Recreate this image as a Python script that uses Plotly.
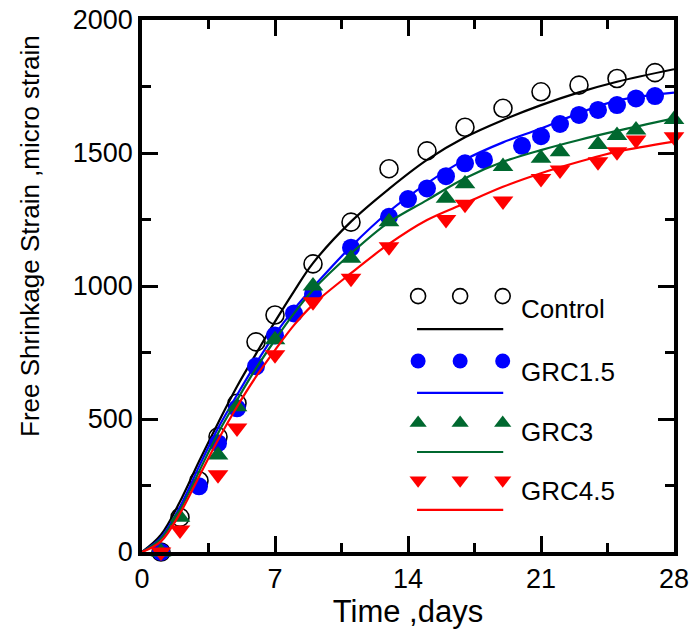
import plotly.graph_objects as go

# ---- measured data ----
control_x = [1, 2, 3, 4, 5, 6, 7, 9, 11, 13, 15, 17, 19, 21, 23, 25, 27]
control_y = [0, 130, 268, 433, 559, 790, 891, 1083, 1240, 1441, 1508, 1597, 1668, 1730, 1755, 1780, 1802]

grc15_x = [1, 3, 4, 5, 6, 7, 8, 9, 11, 13, 14, 15, 16, 17, 18, 20, 21, 22, 23, 24, 25, 26, 27]
grc15_y = [0, 247, 409, 540, 698, 814, 897, 970, 1144, 1260, 1327, 1367, 1413, 1461, 1474, 1527, 1563, 1609, 1643, 1662, 1680, 1705, 1714]

grc3_x = [1, 2, 4, 5, 7, 9, 11, 13, 16, 17, 19, 21, 22, 24, 25, 26, 28]
grc3_y = [0, 131, 365, 546, 798, 1000, 1104, 1242, 1330, 1384, 1449, 1480, 1505, 1532, 1566, 1586, 1626]

grc45_x = [1, 2, 4, 5, 7, 9, 11, 13, 16, 17, 19, 21, 22, 24, 25, 26, 28]
grc45_y = [0, 83, 290, 466, 742, 941, 1029, 1148, 1250, 1307, 1320, 1404, 1436, 1467, 1505, 1549, 1561]

# fitted curves
curve_x = [0, 1, 2, 3, 4, 5, 6, 7, 8, 9, 11, 13, 15, 17, 19, 21, 23, 25, 28]
control_fit = [0, 65, 190, 340, 484, 622, 745, 866, 980, 1086, 1242, 1365, 1474, 1559, 1624, 1680, 1728, 1768, 1815]
grc15_fit = [0, 55, 170, 321, 465, 590, 709, 818, 912, 995, 1148, 1280, 1386, 1475, 1540, 1592, 1650, 1697, 1727]
grc3_fit = [0, 50, 158, 302, 446, 571, 690, 797, 897, 985, 1122, 1240, 1323, 1405, 1467, 1511, 1549, 1583, 1630]
grc45_fit = [0, 40, 145, 283, 421, 546, 659, 759, 853, 930, 1048, 1158, 1248, 1311, 1373, 1424, 1467, 1505, 1543]

names = ["Control", "GRC1.5", "GRC3", "GRC4.5"]
x_ticks = [0, 7, 14, 21, 28]
y_ticks = [0, 500, 1000, 1500, 2000]
x_title = "Time ,days"
y_title = "Free Shrinkage Strain ,micro strain"

FONT = "Liberation Sans, Arial, sans-serif"
GREEN = "#00682F"
series = [
    (control_x, control_y, control_fit, "black",
     dict(symbol="circle-open", size=18, color="black", line=dict(width=1.6, color="black"))),
    (grc15_x, grc15_y, grc15_fit, "#0000FF",
     dict(symbol="circle", size=18, color="#0000FF")),
    (grc3_x, grc3_y, grc3_fit, GREEN,
     dict(symbol="triangle-up", size=18, color=GREEN)),
    (grc45_x, grc45_y, grc45_fit, "#FF0000",
     dict(symbol="triangle-down", size=18, color="#FF0000")),
]

fig = go.Figure()
for (sx, sy, fit, col, mk), nm in zip(series, names):
    fig.add_trace(go.Scatter(x=sx, y=sy, mode="markers", marker=mk, name=nm,
                             cliponaxis=False, showlegend=False))
    fig.add_trace(go.Scatter(x=curve_x, y=fit, mode="lines", name=nm + " fit",
                             line=dict(color=col, width=2.2, shape="spline", smoothing=1.0),
                             cliponaxis=False, showlegend=False))

# ---- custom legend (layout positions in plot-area fractions) ----
leg_marker_x = [0.519, 0.598, 0.678]
leg_line_x = [0.517, 0.679]
leg_text_x = 0.708
leg_rows = [  # marker row y, line row y, text y
    (0.481, 0.419, 0.457),
    (0.359, 0.299, 0.338),
    (0.2425, 0.188, 0.2256),
    (0.135, 0.079, 0.1147),
]
for (sx, sy, fit, col, mk), nm, (my, ly, ty) in zip(series, names, leg_rows):
    lm = dict(mk)
    lm["size"] = 15
    fig.add_trace(go.Scatter(x=leg_marker_x, y=[my] * 3, mode="markers", marker=lm,
                             xaxis="x2", yaxis="y2", showlegend=False, hoverinfo="skip"))
    fig.add_trace(go.Scatter(x=leg_line_x, y=[ly] * 2, mode="lines",
                             line=dict(color=col, width=2.2),
                             xaxis="x2", yaxis="y2", showlegend=False, hoverinfo="skip"))
    fig.add_annotation(x=leg_text_x, y=ty, xref="x2", yref="y2", text=nm, showarrow=False,
                       xanchor="left", yanchor="middle",
                       font=dict(family=FONT, size=26, color="black"))

# y-axis title (placed slightly above centre, as in the original)
fig.add_annotation(x=-0.2105, y=0.594, xref="paper", yref="paper", text=y_title,
                   textangle=-90, showarrow=False, xanchor="center", yanchor="middle",
                   font=dict(family=FONT, size=26, color="black"))

axis_common = dict(
    showline=True, linecolor="black", linewidth=3.5, mirror="allticks",
    ticks="inside", ticklen=16, tickwidth=3, tickcolor="black",
    showgrid=False, zeroline=False, automargin=False,
    tickfont=dict(family=FONT, size=27, color="black"),
)
fig.update_layout(
    width=691, height=630,
    margin=dict(l=142, r=17, t=20, b=78),
    paper_bgcolor="white", plot_bgcolor="white",
    xaxis=dict(range=[0, 28], tickvals=x_ticks, ticktext=[str(v) for v in x_ticks],
               minor=dict(dtick=3.5, tick0=0, ticks="inside", ticklen=9, tickwidth=3, tickcolor="black"),
               title=dict(text=x_title, font=dict(family=FONT, size=31, color="black"), standoff=2),
               **axis_common),
    yaxis=dict(range=[0, 2000], tickvals=y_ticks, ticktext=[str(v) for v in y_ticks],
               minor=dict(dtick=250, tick0=0, ticks="inside", ticklen=9, tickwidth=3, tickcolor="black"),
               **axis_common),
    xaxis2=dict(range=[0, 1], overlaying="x", visible=False, domain=[0, 1]),
    yaxis2=dict(range=[0, 1], overlaying="y", visible=False, domain=[0, 1]),
    showlegend=False,
)
fig.write_html("out.html")
